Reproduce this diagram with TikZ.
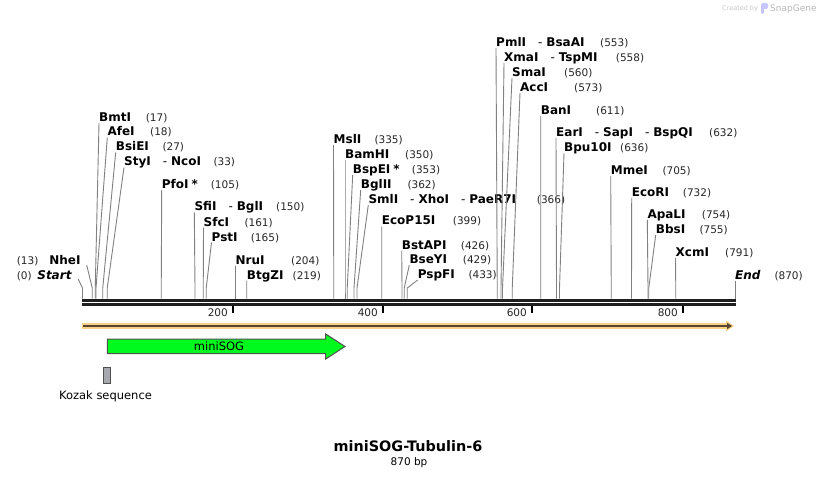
\documentclass[tikz,border=0pt]{standalone}
\usepackage{fontspec}
\setmainfont{DejaVu Sans}
\usepackage{tikz}
\usetikzlibrary{arrows.meta}

\definecolor{sitegray}{RGB}{128,128,128}
\definecolor{bandorange}{RGB}{250,208,135}
\definecolor{banddark}{RGB}{85,70,50}
\definecolor{featgreen}{RGB}{0,250,30}
\definecolor{featedge}{RGB}{80,80,80}
\definecolor{kozakgray}{RGB}{165,168,175}
\newcommand{\cutsep}{\hspace{12pt}{\mdseries-}\hspace{4pt}}

\begin{document}
\begin{tikzpicture}[x=1pt, y=-1pt,
  enz/.style={anchor=base west, inner sep=0pt, font=\fontsize{12}{14}\selectfont\bfseries},
  enzl/.style={enz, anchor=base east},
  num/.style={anchor=base west, inner sep=0pt, font=\fontsize{10.5}{12}\selectfont, text=black!85},
  cut/.style={draw=sitegray, line width=0.9pt},
  ruler/.style={line width=2.6pt, draw=black!88},
  tick/.style={line width=2pt},
  feat/.style={draw=featedge, line width=1pt, fill=featgreen},
  plain/.style={inner sep=0pt, font=\fontsize{11.5}{13}\selectfont}]

\fill[white] (0,0) rectangle (818,478);
\useasboundingbox (0,0) rectangle (818,478);

% site positions on the map
\foreach \bp in {0,13,17,18,27,33,105,150,161,165,204,219,335,350,353,362,366,399,426,429,433,553,558,560,573,611,632,636,705,732,754,755,791,870}
  \coordinate (s\bp) at ({82.5+0.75*\bp},288);

% left stack
\node[enzl] (NheI) at (80.7,264) {NheI};
\node[num] (NheI-n) at (16.7,264) {(13)};
\node[enzl] (Start) at (71.7,279) {\itshape Start};
\node[num] (Start-n) at (16.7,279) {(0)};
\node[enz] (BmtI) at (99,121.5) {BmtI};
\node[num] (BmtI-n) at (145.7,121.5) {(17)};
\node[enz] (AfeI) at (107.3,136) {AfeI};
\node[num] (AfeI-n) at (150,136) {(18)};
\node[enz] (BsiEI) at (115.7,151) {BsiEI};
\node[num] (BsiEI-n) at (162.3,151) {(27)};
\node[enz] (StyI) at (124,166) {StyI\cutsep NcoI};
\node[num] (StyI-n) at (213.3,166) {(33)};
\node[enz] (PfoI) at (161.7,188.5) {PfoI\hspace{3pt}*};
\node[num] (PfoI-n) at (210.7,188.5) {(105)};
\node[enz] (SfiI) at (194.3,211) {SfiI\cutsep BglI};
\node[num] (SfiI-n) at (276,211) {(150)};
\node[enz] (SfcI) at (203.5,226) {SfcI};
\node[num] (SfcI-n) at (244.3,226) {(161)};
\node[enz] (PstI) at (211.5,241) {PstI};
\node[num] (PstI-n) at (250.7,241) {(165)};
\node[enz] (NruI) at (235.5,264) {NruI};
\node[num] (NruI-n) at (291,264) {(204)};
\node[enz] (BtgZI) at (246.7,279) {BtgZI};
\node[num] (BtgZI-n) at (292.5,279) {(219)};

% middle stack
\node[enz] (MslI) at (333.5,143.5) {MslI};
\node[num] (MslI-n) at (374.3,143.5) {(335)};
\node[enz] (BamHI) at (345,158.5) {BamHI};
\node[num] (BamHI-n) at (405,158.5) {(350)};
\node[enz] (BspEI) at (352.7,173.5) {BspEI\hspace{3pt}*};
\node[num] (BspEI-n) at (411.7,173.5) {(353)};
\node[enz] (BglII) at (360.7,188.5) {BglII};
\node[num] (BglII-n) at (407.3,188.5) {(362)};
\node[enz] (SmlI) at (368.3,203.5) {SmlI\cutsep XhoI\cutsep PaeR7I};
\node[num] (SmlI-n) at (536.7,203.5) {(366)};
\node[enz] (EcoP15I) at (381.7,225) {EcoP15I};
\node[num] (EcoP15I-n) at (452.7,225) {(399)};
\node[enz] (BstAPI) at (401.7,249) {BstAPI};
\node[num] (BstAPI-n) at (460.7,249) {(426)};
\node[enz] (BseYI) at (409.3,263.5) {BseYI};
\node[num] (BseYI-n) at (462.7,263.5) {(429)};
\node[enz] (PspFI) at (417.7,278.5) {PspFI};
\node[num] (PspFI-n) at (468.3,278.5) {(433)};

% right stack
\node[enz] (PmlI) at (496,46.5) {PmlI\cutsep BsaAI};
\node[num] (PmlI-n) at (600,46.5) {(553)};
\node[enz] (XmaI) at (504,61.5) {XmaI\cutsep TspMI};
\node[num] (XmaI-n) at (615.7,61.5) {(558)};
\node[enz] (SmaI) at (512,76.5) {SmaI};
\node[num] (SmaI-n) at (564,76.5) {(560)};
\node[enz] (AccI) at (520,91.5) {AccI};
\node[num] (AccI-n) at (574,91.5) {(573)};
\node[enz] (BanI) at (540.7,114.5) {BanI};
\node[num] (BanI-n) at (596,114.5) {(611)};
\node[enz] (EarI) at (556,136.5) {EarI\cutsep SapI\cutsep BspQI};
\node[num] (EarI-n) at (709,136.5) {(632)};
\node[enz] (Bpu10I) at (564,151.5) {Bpu10I};
\node[num] (Bpu10I-n) at (620,151.5) {(636)};
\node[enz] (MmeI) at (610.7,174.5) {MmeI};
\node[num] (MmeI-n) at (662.3,174.5) {(705)};
\node[enz] (EcoRI) at (631.7,196.5) {EcoRI};
\node[num] (EcoRI-n) at (682.7,196.5) {(732)};
\node[enz] (ApaLI) at (647.3,218.5) {ApaLI};
\node[num] (ApaLI-n) at (701.7,218.5) {(754)};
\node[enz] (BbsI) at (655.7,233.5) {BbsI};
\node[num] (BbsI-n) at (699.3,233.5) {(755)};
\node[enz] (XcmI) at (675.5,256.5) {XcmI};
\node[num] (XcmI-n) at (725,256.5) {(791)};
\node[enz] (End) at (735,279) {\itshape End};
\node[num] (End-n) at (774.3,279) {(870)};

% cut lines
\draw[cut] ([xshift=6pt,yshift=-1pt]NheI.base east) -- (s13) -- ++(0,10.5);
\draw[cut] ([xshift=6.5pt]Start.base east) -- (s0) -- ++(0,10.5);
\draw[cut] ([yshift=-1.5pt]BmtI.base west) -- (s17) -- ++(0,10.5);
\draw[cut] ([yshift=-1.5pt]AfeI.base west) -- (s18) -- ++(0,10.5);
\draw[cut] ([yshift=-1.5pt]BsiEI.base west) -- (s27) -- ++(0,10.5);
\draw[cut] ([yshift=-1.5pt]StyI.base west) -- (s33) -- ++(0,10.5);
\draw[cut] ([yshift=-1.5pt]PfoI.base west) -- (s105) -- ++(0,10.5);
\draw[cut] ([yshift=-1.5pt]SfiI.base west) -- (s150) -- ++(0,10.5);
\draw[cut] ([yshift=-1.5pt]SfcI.base west) -- (s161) -- ++(0,10.5);
\draw[cut] ([yshift=-1.5pt]PstI.base west) -- (s165) -- ++(0,10.5);
\draw[cut] ([yshift=-1.5pt]NruI.base west) -- (s204) -- ++(0,10.5);
\draw[cut] ([yshift=-1.5pt]BtgZI.base west) -- (s219) -- ++(0,10.5);
\draw[cut] ([yshift=-1.5pt]MslI.base west) -- (s335) -- ++(0,10.5);
\draw[cut] ([yshift=-1.5pt]BamHI.base west) -- (s350) -- ++(0,10.5);
\draw[cut] ([yshift=-1.5pt]BspEI.base west) -- (s353) -- ++(0,10.5);
\draw[cut] ([yshift=-1.5pt]BglII.base west) -- (s362) -- ++(0,10.5);
\draw[cut] ([yshift=-1.5pt]SmlI.base west) -- (s366) -- ++(0,10.5);
\draw[cut] ([yshift=-1.5pt]EcoP15I.base west) -- (s399) -- ++(0,10.5);
\draw[cut] ([yshift=-1.5pt]BstAPI.base west) -- (s426) -- ++(0,10.5);
\draw[cut] ([yshift=-1.5pt]BseYI.base west) -- (s429) -- ++(0,10.5);
\draw[cut] ([yshift=-1.5pt]PspFI.base west) -- (s433) -- ++(0,10.5);
\draw[cut] ([yshift=-1.5pt]PmlI.base west) -- (s553) -- ++(0,10.5);
\draw[cut] ([yshift=-1.5pt]XmaI.base west) -- (s558) -- ++(0,10.5);
\draw[cut] ([yshift=-1.5pt]SmaI.base west) -- (s560) -- ++(0,10.5);
\draw[cut] ([yshift=-1.5pt]AccI.base west) -- (s573) -- ++(0,10.5);
\draw[cut] ([yshift=-1.5pt]BanI.base west) -- (s611) -- ++(0,10.5);
\draw[cut] ([yshift=-1.5pt]EarI.base west) -- (s632) -- ++(0,10.5);
\draw[cut] ([yshift=-1.5pt]Bpu10I.base west) -- (s636) -- ++(0,10.5);
\draw[cut] ([yshift=-1.5pt]MmeI.base west) -- (s705) -- ++(0,10.5);
\draw[cut] ([yshift=-1.5pt]EcoRI.base west) -- (s732) -- ++(0,10.5);
\draw[cut] ([yshift=-1.5pt]ApaLI.base west) -- (s754) -- ++(0,10.5);
\draw[cut] ([yshift=-1.5pt]BbsI.base west) -- (s755) -- ++(0,10.5);
\draw[cut] ([yshift=-1.5pt]XcmI.base west) -- (s791) -- ++(0,10.5);
\draw[cut] ([yshift=-1.5pt]End.base west) -- (s870) -- ++(0,10.5);

% backbone and ruler
\draw[ruler] (82,300.3) -- (736,300.3);
\draw[ruler, line width=2.3pt] (82,304.5) -- (736,304.5);
\draw[tick] (232.5,305.5) -- (232.5,312.5);
\draw[tick] (382.5,305.5) -- (382.5,312.5);
\draw[tick] (531.5,305.5) -- (531.5,312.5);
\draw[tick] (682.5,305.5) -- (682.5,312.5);
\node[num, anchor=base east] (r200) at (228,316) {200};
\node[num, anchor=base east] (r400) at (378,316) {400};
\node[num, anchor=base east] (r600) at (527,316) {600};
\node[num, anchor=base east] (r800) at (678,316) {800};

% sequence direction band
\draw[line width=5.5pt, bandorange] (82,326) -- (727,326);
\fill[bandorange] (726,320.5) -- (734,326) -- (726,331.5) -- cycle;
\draw[line width=1.6pt, banddark, -{Triangle[length=5pt,width=6pt]}] (83,326) -- (732,326);

% features
\draw[feat] (107.3,339) -- (325.7,339) -- (325.7,334) -- (345,346.5) -- (325.7,359) -- (325.7,353.5) -- (107.3,353.5) -- cycle;
\node[plain] (miniSOG) at (219,346.5) {miniSOG};
\node[draw=featedge, line width=1pt, fill=kozakgray, inner sep=0pt, minimum width=7.4pt, minimum height=16pt] (kozak) at (107,375.3) {};
\node[plain] (kozak-l) at (105.5,396) {Kozak sequence};

% title
\node[inner sep=0pt, font=\fontsize{14.4}{16}\selectfont\bfseries] (title) at (408,446.5) {miniSOG-Tubulin-6};
\node[inner sep=0pt, font=\fontsize{10.5}{12}\selectfont] (length) at (409,462.5) {870 bp};

% watermark
\node[anchor=base west, inner sep=0pt, text=black!22, font=\fontsize{6.5}{7}\selectfont] (made) at (722,10.5) {Created by};
\fill[blue!22, rounded corners=1.5pt] (761,3) rectangle (768,9) (761,3) rectangle (764,14);
\node[anchor=base west, inner sep=0pt, text=black!28, font=\fontsize{9}{10}\selectfont] (snap) at (770,11.5) {SnapGene};

\end{tikzpicture}
\end{document}
